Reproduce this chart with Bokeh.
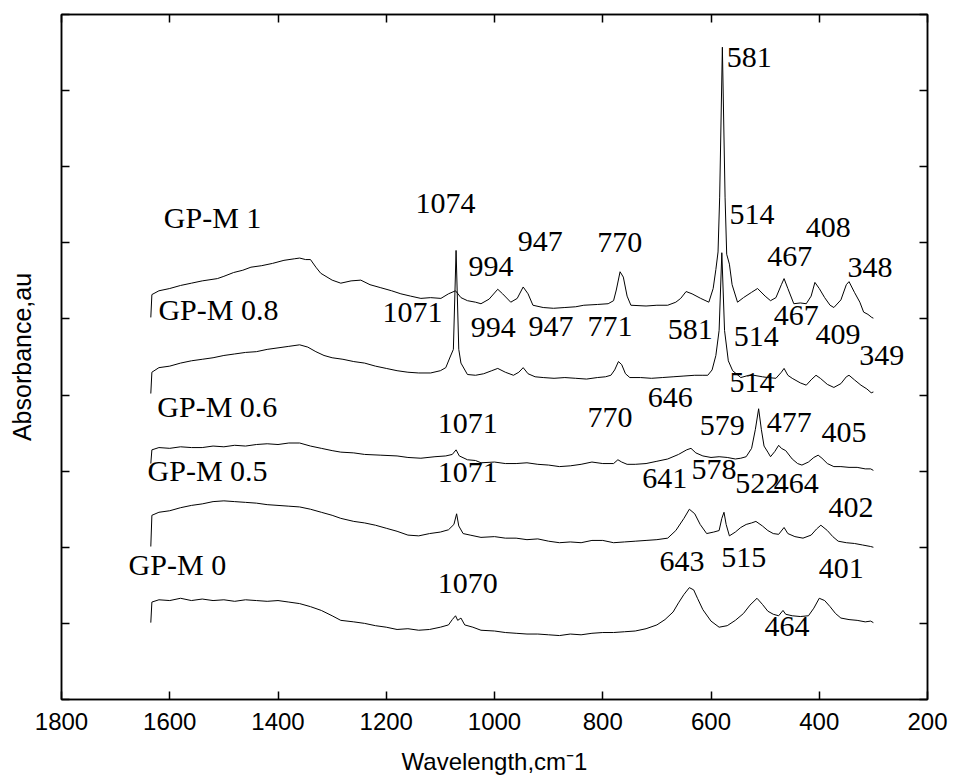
from bokeh.plotting import figure
from bokeh.models import Range1d, LinearAxis, FixedTicker, ColumnDataSource
from bokeh.embed import file_html
from bokeh.resources import INLINE
from bokeh.core.properties import value

# ---------------- data ----------------
x_ticks = [1800, 1600, 1400, 1200, 1000, 800, 600, 400, 200]
y_ticks = [0, 1, 2, 3, 4, 5, 6, 7, 8, 9]

wn_gpm0 = [1635, 1633, 1620, 1600, 1580, 1560, 1540, 1520, 1500, 1480, 1460, 1440, 1420, 1400,
           1380, 1360, 1340, 1320, 1300, 1284, 1260, 1240, 1220, 1200, 1180, 1160, 1140, 1120,
           1100, 1085, 1078, 1072, 1068, 1062, 1055, 1040, 1025, 1000, 980, 960, 940, 920, 900,
           880, 860, 840, 820, 800, 780, 760, 740, 720, 700, 685, 670, 660, 650, 640, 632, 625,
           615, 600, 585, 570, 555, 540, 528, 515, 505, 495, 485, 475, 467, 462, 450, 435, 420,
           410, 400, 390, 380, 370, 360, 345, 330, 315, 305, 300]
abs_gpm0 = [1.01, 1.28, 1.31, 1.30, 1.33, 1.30, 1.32, 1.30, 1.31, 1.29, 1.31, 1.30, 1.29, 1.30,
            1.28, 1.26, 1.22, 1.17, 1.10, 1.04, 1.02, 1.00, 0.97, 0.95, 0.92, 0.93, 0.91, 0.92,
            0.95, 0.98, 1.05, 1.10, 1.04, 1.07, 0.98, 0.95, 0.91, 0.90, 0.88, 0.87, 0.86, 0.86, 0.85,
            0.84, 0.86, 0.85, 0.87, 0.88, 0.88, 0.89, 0.90, 0.93, 0.98, 1.05, 1.15, 1.27, 1.38, 1.47,
            1.44, 1.33, 1.18, 1.03, 0.95, 0.97, 1.04, 1.13, 1.24, 1.33, 1.25, 1.16, 1.12, 1.10, 1.17,
            1.12, 1.10, 1.09, 1.10, 1.20, 1.33, 1.30, 1.22, 1.13, 1.07, 1.05, 1.04, 1.02, 1.03, 1.01]

wn_gpm05 = [1635, 1633, 1620, 1600, 1580, 1560, 1540, 1520, 1500, 1480, 1460, 1440, 1420, 1400,
            1380, 1360, 1340, 1320, 1300, 1284, 1260, 1240, 1220, 1200, 1180, 1160, 1140, 1120,
            1100, 1085, 1075, 1070, 1066, 1058, 1045, 1025, 1000, 980, 960, 940, 920, 900, 880,
            860, 840, 820, 800, 780, 760, 740, 720, 700, 680, 665, 650, 640, 630, 620, 608, 595,
            585, 580, 576, 572, 566, 555, 545, 535, 525, 517, 505, 495, 485, 475, 465, 458, 445,
            430, 415, 405, 397, 385, 375, 365, 350, 335, 320, 305, 300]
abs_gpm05 = [2.01, 2.42, 2.46, 2.48, 2.52, 2.55, 2.57, 2.60, 2.61, 2.60, 2.59, 2.58, 2.56, 2.55,
             2.54, 2.53, 2.50, 2.46, 2.42, 2.38, 2.34, 2.32, 2.29, 2.25, 2.21, 2.16, 2.15, 2.18,
             2.20, 2.23, 2.30, 2.44, 2.28, 2.18, 2.16, 2.13, 2.14, 2.12, 2.12, 2.10, 2.11, 2.08, 2.06,
             2.07, 2.06, 2.09, 2.09, 2.06, 2.07, 2.08, 2.09, 2.10, 2.12, 2.22, 2.38, 2.50, 2.44, 2.30,
             2.18, 2.20, 2.22, 2.38, 2.46, 2.30, 2.15, 2.20, 2.26, 2.30, 2.32, 2.34, 2.28, 2.22, 2.18,
             2.17, 2.26, 2.18, 2.14, 2.12, 2.16, 2.24, 2.29, 2.22, 2.14, 2.08, 2.06, 2.05, 2.03, 2.01, 2.00]

wn_gpm06 = [1635, 1633, 1620, 1600, 1580, 1560, 1540, 1520, 1500, 1480, 1460, 1440, 1420, 1400,
            1380, 1360, 1340, 1320, 1300, 1284, 1260, 1240, 1210, 1180, 1160, 1136, 1110, 1090,
            1078, 1071, 1065, 1050, 1035, 1025, 1000, 980, 960, 940, 920, 900, 880, 860, 840, 820,
            800, 780, 772, 765, 755, 740, 720, 700, 680, 660, 645, 637, 628, 615, 600, 585, 570,
            555, 545, 535, 525, 518, 512, 507, 502, 495, 490, 482, 475, 470, 462, 450, 440, 432,
            420, 410, 402, 395, 385, 373, 360, 345, 330, 315, 305, 300]
abs_gpm06 = [3.10, 3.28, 3.31, 3.30, 3.32, 3.31, 3.31, 3.33, 3.32, 3.34, 3.33, 3.35, 3.36, 3.35,
             3.37, 3.37, 3.33, 3.30, 3.27, 3.25, 3.24, 3.22, 3.21, 3.20, 3.18, 3.17, 3.19, 3.20,
             3.22, 3.28, 3.20, 3.15, 3.14, 3.11, 3.12, 3.10, 3.10, 3.11, 3.09, 3.08, 3.06, 3.07, 3.09, 3.12,
             3.10, 3.10, 3.15, 3.12, 3.09, 3.09, 3.10, 3.13, 3.16, 3.22, 3.28, 3.30, 3.24, 3.20, 3.18, 3.19, 3.18,
             3.16, 3.17, 3.19, 3.30, 3.55, 3.82, 3.55, 3.33, 3.25, 3.19, 3.26, 3.34, 3.30, 3.27, 3.16, 3.10, 3.08,
             3.12, 3.18, 3.21, 3.17, 3.10, 3.06, 3.06, 3.05, 3.05, 3.03, 3.03, 3.01]

wn_gpm08 = [1635, 1633, 1620, 1600, 1580, 1560, 1540, 1520, 1500, 1480, 1460, 1440, 1420, 1400,
            1380, 1360, 1345, 1330, 1315, 1300, 1280, 1260, 1240, 1220, 1200, 1180, 1160, 1140,
            1118, 1100, 1090, 1082, 1076, 1071, 1066, 1062, 1050, 1035, 1020, 1005, 994, 980, 965,
            955, 947, 938, 925, 910, 890, 870, 850, 830, 810, 795, 785, 778, 771, 765, 758, 750,
            730, 710, 690, 670, 650, 630, 615, 606, 598, 591, 585, 580, 575, 568, 560, 545, 530,
            521, 505, 495, 480, 470, 465, 458, 450, 435, 424, 415, 406, 398, 385, 373, 360, 350,
            345, 335, 323, 312, 304, 300]
abs_gpm08 = [4.02, 4.30, 4.36, 4.38, 4.42, 4.45, 4.47, 4.49, 4.52, 4.54, 4.56, 4.57, 4.60, 4.62,
             4.64, 4.66, 4.63, 4.57, 4.52, 4.49, 4.47, 4.44, 4.42, 4.38, 4.35, 4.32, 4.30, 4.29,
             4.29, 4.32, 4.36, 4.50, 4.60, 5.90, 4.60, 4.42, 4.27, 4.26, 4.28, 4.32, 4.35, 4.30, 4.26,
             4.30, 4.36, 4.28, 4.24, 4.23, 4.22, 4.23, 4.22, 4.21, 4.23, 4.24, 4.26, 4.33, 4.44, 4.40, 4.28, 4.23,
             4.23, 4.22, 4.23, 4.24, 4.25, 4.26, 4.26, 4.26, 4.33, 4.52, 4.85, 5.87, 4.85, 4.45, 4.32, 4.23, 4.26,
             4.26, 4.24, 4.23, 4.22, 4.30, 4.35, 4.26, 4.22, 4.16, 4.13, 4.20, 4.26, 4.22, 4.14, 4.10, 4.15, 4.24,
             4.26, 4.20, 4.13, 4.08, 4.03, 4.04]

wn_gpm1 = [1635, 1633, 1620, 1600, 1580, 1560, 1540, 1512, 1500, 1482, 1465, 1450, 1430, 1410,
           1389, 1370, 1360, 1349, 1340, 1330, 1321, 1300, 1284, 1265, 1247, 1230, 1210, 1190,
           1173, 1155, 1136, 1118, 1099, 1085, 1072, 1062, 1050, 1035, 1025, 1010, 994, 985, 970,
           958, 947, 938, 929, 910, 891, 870, 850, 835, 810, 790, 780, 775, 768, 762, 755, 748,
           720, 700, 680, 665, 656, 646, 635, 619, 604, 596, 591, 587, 584, 579, 574, 571, 566,
           561, 551, 540, 525, 514, 500, 490, 480, 470, 465, 458, 447, 435, 424, 415, 408, 400,
           390, 380, 373, 360, 350, 345, 335, 325, 318, 310, 303, 300]
abs_gpm1 = [5.02, 5.32, 5.37, 5.40, 5.44, 5.47, 5.50, 5.53, 5.56, 5.61, 5.64, 5.68, 5.70, 5.73,
            5.77, 5.79, 5.80, 5.78, 5.78, 5.68, 5.60, 5.51, 5.47, 5.50, 5.51, 5.45, 5.41, 5.37,
            5.33, 5.30, 5.27, 5.28, 5.27, 5.33, 5.37, 5.28, 5.24, 5.22, 5.20, 5.26, 5.39, 5.33, 5.22,
            5.27, 5.42, 5.33, 5.18, 5.15, 5.14, 5.15, 5.16, 5.18, 5.19, 5.20, 5.24, 5.38, 5.62, 5.55, 5.30, 5.18,
            5.17, 5.18, 5.18, 5.22, 5.27, 5.36, 5.33, 5.27, 5.22, 5.40, 5.65, 5.88, 6.60, 8.57, 6.60, 5.85, 5.72,
            5.45, 5.22, 5.28, 5.35, 5.40, 5.30, 5.24, 5.28, 5.45, 5.53, 5.40, 5.20, 5.21, 5.20, 5.30, 5.48, 5.40,
            5.28, 5.18, 5.15, 5.25, 5.45, 5.49, 5.35, 5.22, 5.09, 5.06, 5.02, 5.01]

sample_names = ["GP-M 1", "GP-M 0.8", "GP-M 0.6", "GP-M 0.5", "GP-M 0"]
spectra_wn = [wn_gpm1, wn_gpm08, wn_gpm06, wn_gpm05, wn_gpm0]
spectra_abs = [abs_gpm1, abs_gpm08, abs_gpm06, abs_gpm05, abs_gpm0]

# sample-name annotations: (left edge in cm-1, vertical centre in axis units)
name_anchor_wn = [1611, 1621, 1623, 1641, 1676]
name_anchor_y = [6.33, 5.12, 3.85, 3.01, 1.77]

# peak-position annotations
peak_text = ["1074", "994", "947", "770", "581", "514", "467", "408", "348",
             "1071", "994", "947", "771", "581", "514", "467", "409", "349",
             "646", "514", "770", "1071", "579", "477", "405",
             "1071", "641", "578", "522", "464", "402",
             "1070", "643", "515", "401", "464"]
peak_anchor_wn = [1146, 1048, 957, 810, 571, 566, 496, 425, 348,
                  1207, 1044, 937, 828, 680, 558, 484, 407, 326,
                  717, 566, 828, 1105, 621, 497, 396,
                  1105, 727, 636, 555, 484, 383,
                  1105, 695, 581, 401, 501]
peak_anchor_y = [6.52, 5.69, 6.02, 6.01, 8.44, 6.37, 5.82, 6.20, 5.68,
                 5.09, 4.89, 4.90, 4.90, 4.86, 4.77, 5.05, 4.80, 4.52,
                 3.97, 4.17, 3.71, 3.63, 3.60, 3.64, 3.51,
                 2.98, 2.90, 3.02, 2.84, 2.84, 2.52,
                 1.52, 1.81, 1.86, 1.72, 0.96]

# ---------------- figure ----------------
p = figure(width=953, height=778, x_range=Range1d(1800, 200), y_range=Range1d(0, 9),
           output_backend="svg", toolbar_location=None,
           min_border_left=61, min_border_right=26, min_border_top=14, min_border_bottom=79)
p.background_fill_color = "white"
p.border_fill_color = "white"
p.xgrid.visible = False
p.ygrid.visible = False
p.outline_line_color = "black"
p.outline_line_width = 1.5

for wn, ab in zip(spectra_wn, spectra_abs):
    p.line(wn, ab, line_color="black", line_width=1)

name_src = ColumnDataSource(dict(x=name_anchor_wn, y=name_anchor_y, t=sample_names))
p.text("x", "y", text="t", source=name_src, text_font=value("Liberation Serif"),
       text_font_size="30px", text_align="left", text_baseline="middle", text_color="black")
peak_src = ColumnDataSource(dict(x=peak_anchor_wn, y=peak_anchor_y, t=peak_text))
p.text("x", "y", text="t", source=peak_src, text_font=value("Liberation Serif"),
       text_font_size="30px", text_align="left", text_baseline="middle", text_color="black")


def style_axis(ax, ticks, show_labels):
    ax.ticker = FixedTicker(ticks=ticks)
    ax.major_tick_in = 8
    ax.major_tick_out = 0
    ax.minor_tick_line_color = None
    ax.axis_line_color = "black"
    ax.axis_line_width = 1.5
    ax.major_tick_line_color = "black"
    ax.major_tick_line_width = 1.5
    if not show_labels:
        ax.major_label_text_color = None
        ax.major_label_text_font_size = "1px"
        ax.major_label_standoff = 0


xb = p.xaxis[0]
style_axis(xb, x_ticks, True)
xb.major_label_text_font = "Liberation Sans"
xb.major_label_text_font_size = "24px"
xb.major_label_text_color = "black"
xb.major_label_standoff = 13
xb.axis_label = "Wavelength,cm\u207b1"
xb.axis_label_text_font = "Liberation Sans"
xb.axis_label_text_font_size = "24px"
xb.axis_label_text_font_style = "normal"
xb.axis_label_text_color = "black"
xb.axis_label_standoff = 15

yl = p.yaxis[0]
style_axis(yl, y_ticks, False)
yl.axis_label = "Absorbance,au"
yl.axis_label_text_font = "Liberation Sans"
yl.axis_label_text_font_size = "25px"
yl.axis_label_text_font_style = "normal"
yl.axis_label_text_color = "black"
yl.axis_label_standoff = 26

xt = LinearAxis()
style_axis(xt, x_ticks, False)
p.add_layout(xt, "above")
yr = LinearAxis()
style_axis(yr, y_ticks, False)
p.add_layout(yr, "right")

open("out.html", "w").write(file_html(p, INLINE))
